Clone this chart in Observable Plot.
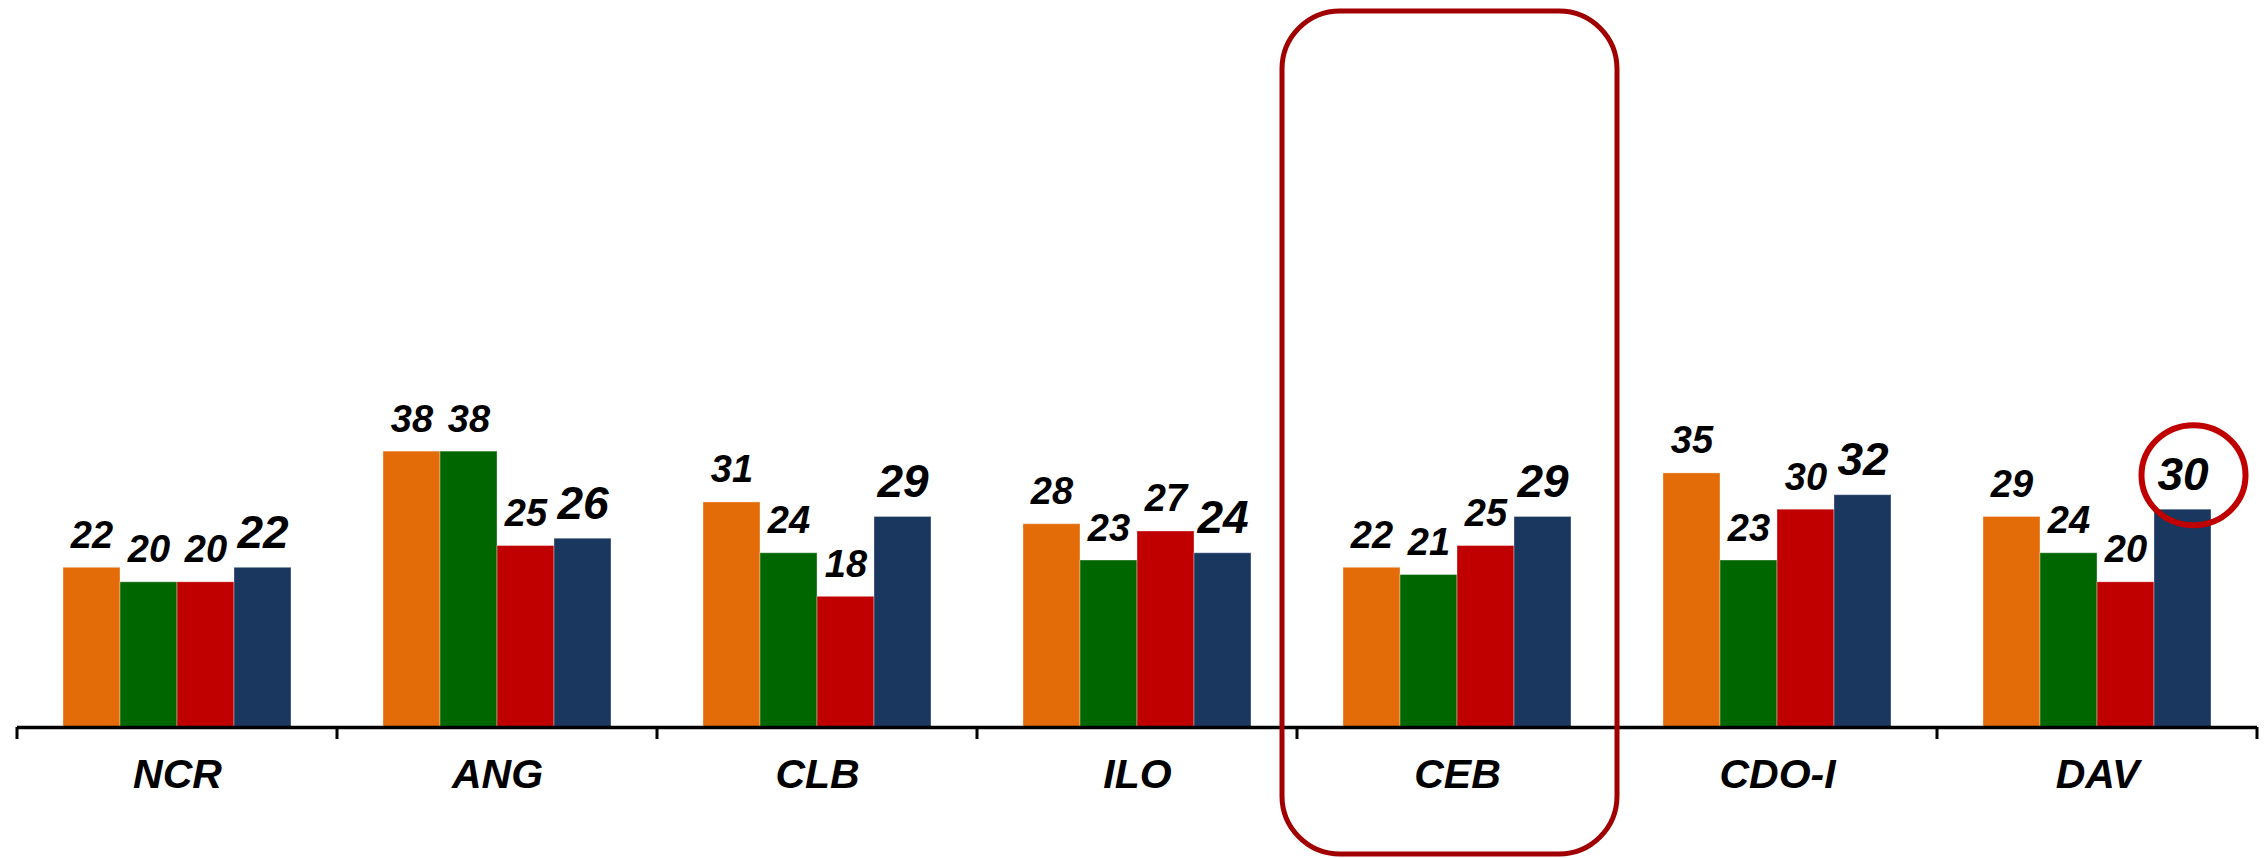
<!DOCTYPE html>
<html>
<head>
<meta charset="utf-8">
<script src="https://cdn.jsdelivr.net/npm/d3@7"></script>
<script src="https://cdn.jsdelivr.net/npm/@observablehq/plot@0.6"></script>
<style>
  html, body { margin: 0; padding: 0; background: #fff; }
</style>
</head>
<body>
<div id="chart"></div>
<script>
// ---- data ----
const regions = ["NCR", "ANG", "CLB", "ILO", "CEB", "CDO-I", "DAV"];
const series = ["Series 1", "Series 2", "Series 3", "Series 4"];
const seriesColors = ["#E36C09", "#006600", "#C00000", "#1A385F"];
const series1 = [22, 38, 31, 28, 22, 35, 29];
const series2 = [20, 38, 24, 23, 21, 23, 24];
const series3 = [20, 25, 18, 27, 25, 30, 20];
const series4 = [22, 26, 29, 24, 29, 32, 30];
const highlightRegion = "CEB";
const highlightBar = { region: "DAV", series: "Series 4", value: 30 };

const allSeries = [series1, series2, series3, series4];
const data = regions.flatMap((r, i) =>
  series.map((s, j) => ({ region: r, series: s, value: allSeries[j][i] }))
);

const font = "'Liberation Sans', Arial, sans-serif";
const plot = Plot.plot({
  width: 2265,
  height: 858,
  marginTop: 1,
  marginBottom: 131,
  marginLeft: 14,
  marginRight: 6,
  style: { fontFamily: font, fontWeight: "bold", fontStyle: "italic", fontSize: "41px", background: "#fff", color: "#000", overflow: "visible" },
  fx: { domain: regions, padding: 0, axis: "bottom", label: null, tickSize: 0, tickPadding: 31 },
  x: { domain: series, paddingInner: 0, paddingOuter: 0.76, axis: null },
  y: { domain: [0, 100], axis: null },
  color: { domain: series, range: seriesColors },
  marks: [
    Plot.barY(data, { fx: "region", x: "series", y: "value", fill: "series", stroke: "#fff", strokeOpacity: 0.35, strokeWidth: 1 }),
    Plot.ruleY([0], { stroke: "#000", strokeWidth: 3.5 }),
    Plot.text(data.filter(d => d.series !== series[3]), {
      fx: "region", x: "series", y: "value", text: d => String(d.value),
      lineAnchor: "bottom", dy: -20, fontSize: 38, fill: "#000"
    }),
    Plot.text(data.filter(d => d.series === series[3]), {
      fx: "region", x: "series", y: "value", text: d => String(d.value),
      lineAnchor: "bottom", dy: -20, fontSize: 46, fill: "#000"
    })
  ]
});
document.getElementById("chart").appendChild(plot);

// ---- annotations placed from the plot's own scales ----
const svg = d3.select(plot);
const fx = plot.scale("fx"), x = plot.scale("x"), y = plot.scale("y");
const y0 = y.apply(0);
const bw = fx.bandwidth;
const edges = regions.map(r => fx.apply(r)).concat([fx.apply(regions[regions.length - 1]) + bw]);
const g = svg.append("g");
g.selectAll("line.tick").data(edges).join("line")
  .attr("x1", d => d).attr("x2", d => d)
  .attr("y1", y0).attr("y2", y0 + 12)
  .attr("stroke", "#000").attr("stroke-width", 3);

// rounded box around highlighted region
const hx = fx.apply(highlightRegion);
g.append("rect")
  .attr("x", hx - 15).attr("y", y.apply(100) + 10)
  .attr("width", bw + 15).attr("height", 843)
  .attr("rx", 58).attr("ry", 58)
  .attr("fill", "none").attr("stroke", "#A00000").attr("stroke-width", 5);

// circle around highlighted bar label
const xr0 = Math.min(...x.range);
const barCenter = fx.apply(highlightBar.region) + (x.apply(highlightBar.series) - xr0) + x.bandwidth / 2;
g.append("ellipse")
  .attr("cx", barCenter + 11).attr("cy", y.apply(highlightBar.value) - 34)
  .attr("rx", 52).attr("ry", 50)
  .attr("fill", "none").attr("stroke", "#C00000").attr("stroke-width", 6);
</script>
</body>
</html>
